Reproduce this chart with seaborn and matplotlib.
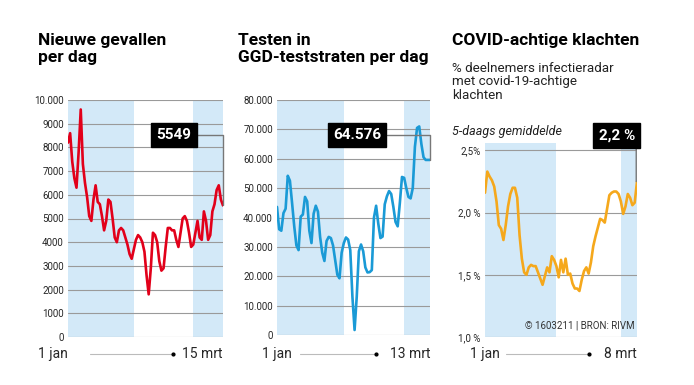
import numpy as np
import pandas as pd
import matplotlib
matplotlib.use("Agg")
import matplotlib.pyplot as plt
import matplotlib.font_manager as fm
import seaborn as sns

# --- data ---
cases_start, cases_end = "2021-01-01", "2021-03-15"
cases = [8200, 8600, 7400, 6700, 6300, 7800, 9600, 7300, 6500, 5900,
         5100, 4900, 5800, 6400, 5700, 5600, 5100, 4500, 4900, 5800,
         5700, 5000, 4200, 4000, 4500, 4600, 4500, 4200, 3900, 3500,
         3300, 3700, 4100, 4300, 4200, 4000, 3600, 2600, 1800, 2900,
         4400, 4300, 4000, 3200, 2800, 2900, 3800, 4600, 4600, 4500,
         4500, 4100, 3800, 4400, 5000, 5100, 4900, 4400, 3800, 3900,
         4400, 4900, 4200, 4100, 5300, 4900, 4100, 4300, 5300, 5600,
         6200, 6400, 5800, 5549]

tests_start, tests_end = "2021-01-01", "2021-03-13"
tests = [43600, 36000, 35500, 41500, 43000, 54200, 52500, 44900, 37000, 30500,
         28900, 40300, 41000, 47000, 45500, 35500, 31300, 41300, 44000, 42000,
         33400, 28000, 25200, 32000, 33400, 33000, 30500, 25500, 20500, 19300,
         28000, 31300, 33200, 32500, 28900, 13000, 1700, 13000, 28500, 30800,
         28500, 23000, 21300, 21400, 22100, 40000, 44000, 37900, 33000, 33500,
         44500, 47200, 49000, 48000, 43600, 38500, 37000, 44900, 53800, 53500,
         50000, 47000, 46500, 50000, 64100, 70500, 71000, 65000, 60500, 59600,
         59600, 59600]

sympt_start, sympt_end = "2021-01-01", "2021-03-08"
symptoms = [2.16, 2.33, 2.29, 2.26, 2.21, 2.09, 1.90, 1.87, 1.78, 1.90,
            2.05, 2.15, 2.20, 2.20, 2.12, 1.82, 1.63, 1.52, 1.50, 1.56,
            1.58, 1.57, 1.57, 1.52, 1.47, 1.42, 1.49, 1.56, 1.52, 1.65,
            1.62, 1.57, 1.48, 1.62, 1.52, 1.63, 1.50, 1.51, 1.43, 1.39,
            1.39, 1.37, 1.46, 1.53, 1.56, 1.51, 1.60, 1.73, 1.81, 1.88,
            1.95, 1.94, 1.92, 2.03, 2.14, 2.16, 2.17, 2.17, 2.15, 2.09,
            1.99, 2.05, 2.15, 2.12, 2.06, 2.08, 2.25]

cases_ticks = list(range(0, 10001, 1000))
cases_labels = ["0", "1000", "2000", "3000", "4000", "5000", "6000", "7000",
                "8000", "9000", "10.000"]
tests_ticks = list(range(0, 80001, 10000))
tests_labels = ["0", "10.000", "20.000", "30.000", "40.000", "50.000",
                "60.000", "70.000", "80.000"]
sympt_ticks = [1.0, 1.5, 2.0, 2.5]
sympt_labels = ["1,0 %", "1,5 %", "2,0 %", "2,5%"]

titles = ["Nieuwe gevallen\nper dag", "Testen in\nGGD-teststraten per dag",
          "COVID-achtige klachten"]
last_labels = ["5549", "64.576", "2,2 %"]
end_labels = ["15 mrt", "13 mrt", "8 mrt"]

# --- style ---
sns.set_theme(style="white")
names = {f.name for f in fm.fontManager.ttflist}
narrow = "Liberation Sans Narrow" if "Liberation Sans Narrow" in names else "Roboto"
plt.rcParams["font.family"] = [narrow, "DejaVu Sans"]

BLUE_BAND = "#d3e9f8"
GRID = "#9a9a9a"
CONN = "#777777"

fig = plt.figure(figsize=(6.94, 3.85), dpi=100)
W, H = 694, 385


def px_axes(x0, y0, x1, y1):
    return fig.add_axes([x0 / W, 1 - y1 / H, (x1 - x0) / W, (y1 - y0) / H])


ax1 = px_axes(68, 100, 223, 337)
ax2 = px_axes(277, 100, 430, 335)
ax3 = px_axes(485, 143, 637, 337)

panels = [
    (ax1, cases, cases_start, cases_end, "#e2001a", cases_ticks, cases_labels, (0, 10000)),
    (ax2, tests, tests_start, tests_end, "#1a9ad6", tests_ticks, tests_labels, (0, 80000)),
    (ax3, symptoms, sympt_start, sympt_end, "#f5a81c", sympt_ticks, sympt_labels, (1.0, 2.56)),
]

for ax, vals, start, end, color, ticks, labels, ylim in panels:
    dates = pd.date_range(start, end, freq="D")
    df = pd.DataFrame({"datum": dates, "waarde": vals})
    ax.axvspan(pd.Timestamp(start), pd.Timestamp("2021-02-01"), color=BLUE_BAND, lw=0, zorder=0)
    ax.axvspan(pd.Timestamp("2021-03-01"), pd.Timestamp(end), color=BLUE_BAND, lw=0, zorder=0)
    for t in ticks:
        ax.axhline(t, color=GRID, lw=0.8, zorder=1)
    sns.lineplot(data=df, x="datum", y="waarde", ax=ax, color=color, lw=1.9, zorder=3)
    ax.set_xlim(pd.Timestamp(start), pd.Timestamp(end))
    ax.set_ylim(*ylim)
    ax.set_yticks(ticks)
    ax.set_yticklabels(labels, fontsize=7)
    ax.tick_params(axis="y", length=0, pad=3)
    ax.set_xticks([])
    ax.set_xlabel("")
    ax.set_ylabel("")
    ax.grid(False)
    ax.patch.set_alpha(0)
    for s in ax.spines.values():
        s.set_visible(False)

# annotation boxes with connector to the last value
box = dict(boxstyle="square,pad=0.35", fc="black", ec="black")
elbow = dict(arrowstyle="-", color=CONN, lw=1,
             connectionstyle="angle,angleA=0,angleB=90,rad=0", shrinkA=0, shrinkB=0)
ax1.annotate(last_labels[0], xy=(pd.Timestamp(cases_end), cases[-1]), xycoords="data",
             xytext=(0.684, 0.852), textcoords="axes fraction", ha="center", va="center",
             color="white", fontsize=11, fontweight="bold", bbox=box, arrowprops=elbow)
ax2.annotate(last_labels[1], xy=(pd.Timestamp(tests_end), tests[-1]), xycoords="data",
             xytext=(0.523, 0.851), textcoords="axes fraction", ha="center", va="center",
             color="white", fontsize=11, fontweight="bold", bbox=box, arrowprops=elbow)

end3 = pd.Timestamp(sympt_end) - pd.Timedelta(hours=8)
ax3.annotate("", xy=(end3, symptoms[-1]), xycoords="data",
             xytext=(end3, 1.05), textcoords=ax3.get_xaxis_transform(),
             annotation_clip=False,
             arrowprops=dict(arrowstyle="-", color=CONN, lw=1, shrinkA=0, shrinkB=0))
ax3.text(pd.Timestamp(sympt_end) - pd.Timedelta(hours=20), 1.04, last_labels[2],
         transform=ax3.get_xaxis_transform(), ha="right", va="center",
         color="white", fontsize=11, fontweight="bold", bbox=box, zorder=5)

# titles
for x, t in zip([38, 238, 452], titles):
    fig.text(x / W, 1 - 33 / H, t, ha="left", va="top", fontsize=12.5,
             fontweight="bold", color="black", linespacing=1.2)
fig.text(452 / W, 1 - 62 / H, "% deelnemers infectieradar\nmet covid-19-achtige\nklachten",
         ha="left", va="top", fontsize=9.6, color="#222222", linespacing=1.05)
fig.text(452 / W, 1 - 131 / H, "5-daags gemiddelde", ha="left", va="center",
         fontsize=9, style="italic", color="#222222")
fig.text(635 / W, 1 - 325 / H, "© 1603211 | BRON: RIVM", ha="right", va="center",
         fontsize=7, color="#333333")

# bottom date labels
for (x0, l0, l1, x1), lab in zip([(38, 90, 173, 222), (262, 300, 376, 430),
                                   (470, 506, 589, 637)], end_labels):
    y = 1 - 354 / H
    fig.text(x0 / W, y, "1 jan", ha="left", va="center", fontsize=10)
    fig.text(x1 / W, y, lab, ha="right", va="center", fontsize=10)
    fig.add_artist(plt.Line2D([l0 / W, l1 / W], [y, y], color="#bbbbbb", lw=0.8))
    fig.add_artist(plt.Line2D([l1 / W], [y], marker="o", ms=2, color="black"))

fig.savefig("out.png", dpi=100)
